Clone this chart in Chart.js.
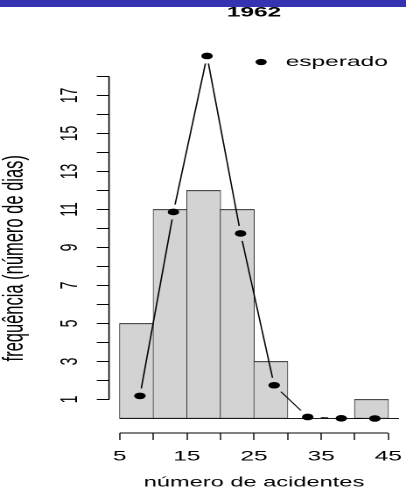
<!DOCTYPE html>
<html>
<head>
<meta charset="utf-8">
<script src="https://cdn.jsdelivr.net/npm/chart.js@4.4.1/dist/chart.umd.min.js"></script>
<style>
  html, body { margin: 0; padding: 0; background: #fff; }
  body { width: 406px; height: 494px; overflow: hidden; position: relative; }
  #topbar { position: absolute; left: 0; top: 0; width: 406px; height: 7px; background: #3434b2; z-index: 2; }
  /* the reference plot is stretched sideways, so draw narrow and widen it */
  #wrap { position: absolute; left: 0; top: 0; width: 232px; height: 494px; transform: scaleX(1.75); transform-origin: 0 0; }
</style>
</head>
<body>
<div id="topbar"></div>
<div id="wrap"><canvas id="histChart"></canvas></div>
<script>
// --- Data ---
const binEdges = [5, 10, 15, 20, 25, 30, 35, 40, 45];
const observed = [5, 11, 12, 11, 3, 0, 0, 1];
const expectedX = [8, 13, 18, 23, 28, 33, 38, 43];
const expected = [1.19, 10.87, 19.08, 9.74, 1.75, 0.08, 0.01, 0.0];
const xTicks = [5, 10, 15, 20, 25, 30, 35, 40, 45];
const xLabelled = [5, 15, 25, 35, 45];
const yTicks = [1, 2, 3, 4, 5, 6, 7, 8, 9, 10, 11, 12, 13, 14, 15, 16, 17, 18];
const yLabelled = [1, 3, 5, 7, 9, 11, 13, 15, 17];

// --- Layout helpers (pixels) ---
const PX_PER_UNIT = 19;
const ZERO_Y = 418.5;
const PLOT_BOTTOM = 433;
const yMin = -(PLOT_BOTTOM - ZERO_Y) / PX_PER_UNIT;

Chart.defaults.font.family = "'Liberation Sans', Arial, sans-serif";
Chart.defaults.color = '#000';

// R style axes: lines only span first..last tick, plus the histogram base line
const rAxes = {
    id: 'rAxes',
    afterLayout(chart) {
        // legend sits inside the plot, top right (like legend("topright", bty = "n"))
        const lg = chart.legend, ca = chart.chartArea;
        if (!lg) return;
        const w = lg.width, h = lg.height;
        lg.left = ca.right - w + 3.6;
        lg.right = lg.left + w;
        lg.top = ca.top - 5.2;
        lg.bottom = lg.top + h;
    },
    beforeDatasetsDraw(chart) {
        const { ctx, scales: { x, y }, chartArea } = chart;
        const y0 = y.getPixelForValue(0);
        ctx.save();
        ctx.strokeStyle = '#1a1a1a';
        ctx.lineWidth = 1;
        ctx.beginPath();
        ctx.moveTo(x.getPixelForValue(binEdges[0]), y0);
        ctx.lineTo(chartArea.right, y0);
        ctx.stroke();
        ctx.restore();
    },
    afterDraw(chart) {
        const { ctx, scales: { x, y }, chartArea } = chart;
        ctx.save();
        ctx.strokeStyle = '#000';
        ctx.lineWidth = 1;
        ctx.beginPath();
        ctx.moveTo(x.getPixelForValue(xTicks[0]), chartArea.bottom);
        ctx.lineTo(x.getPixelForValue(xTicks[xTicks.length - 1]), chartArea.bottom);
        ctx.stroke();
        ctx.lineWidth = 0.8;
        ctx.beginPath();
        ctx.moveTo(chartArea.left, y.getPixelForValue(yTicks[0]));
        ctx.lineTo(chartArea.left, y.getPixelForValue(yTicks[yTicks.length - 1]));
        ctx.stroke();
        ctx.restore();
    }
};

// type = "b": segments between points with a gap around each point
const typeBLines = {
    id: 'typeBLines',
    afterDatasetsDraw(chart) {
        const pts = chart.getDatasetMeta(1).data;
        const ctx = chart.ctx;
        const gap = 7.5;
        ctx.save();
        ctx.strokeStyle = '#000';
        ctx.lineWidth = 0.8;
        for (let i = 0; i < pts.length - 1; i++) {
            const a = pts[i], b = pts[i + 1];
            const dx = b.x - a.x, dy = b.y - a.y;
            const len = Math.hypot(dx, dy);
            if (len <= 2 * gap) continue;
            const ux = dx / len, uy = dy / len;
            ctx.beginPath();
            ctx.moveTo(a.x + ux * gap, a.y + uy * gap);
            ctx.lineTo(b.x - ux * gap, b.y - uy * gap);
            ctx.stroke();
        }
        ctx.restore();
    }
};

const ctx = document.getElementById('histChart').getContext('2d');
const chart = new Chart(ctx, {
    type: 'bar',
    data: {
        datasets: [{
            type: 'bar',
            label: 'observado',
            data: observed.map((v, i) => ({ x: (binEdges[i] + binEdges[i + 1]) / 2, y: v })),
            backgroundColor: '#d3d3d3',
            borderColor: '#1a1a1a',
            borderWidth: { top: 1, bottom: 1, left: 0.45, right: 0.45 },
            borderSkipped: false,
            barPercentage: 1,
            categoryPercentage: 1,
            order: 2
        }, {
            type: 'line',
            label: 'esperado',
            data: expectedX.map((x, i) => ({ x: x, y: expected[i] })),
            showLine: false,
            pointRadius: 3.3,
            pointBackgroundColor: '#000',
            pointBorderColor: '#000',
            pointBorderWidth: 0,
            backgroundColor: '#000',
            borderColor: '#000',
            borderWidth: 0,
            clip: false,
            order: 1
        }]
    },
    options: {
        responsive: true,
        maintainAspectRatio: false,
        animation: false,
        devicePixelRatio: 2,
        layout: { padding: { left: 0, right: 2.3, top: 0, bottom: 0 } },
        scales: {
            x: {
                type: 'linear',
                min: 3.4, max: 46.6,
                offset: false,
                afterBuildTicks: s => { s.ticks = xTicks.map(v => ({ value: v })); },
                afterFit: s => { s.height = 494 - PLOT_BOTTOM; s.paddingLeft = 0; s.paddingRight = 0; },
                grid: { offset: false, drawOnChartArea: false, tickLength: 7, color: '#000', lineWidth: 0.7 },
                border: { display: false },
                ticks: {
                    autoSkip: false, maxRotation: 0, padding: 8,
                    font: { size: 14 },
                    callback: v => xLabelled.includes(v) ? String(v) : ''
                },
                title: { display: true, text: 'número de acidentes', font: { size: 13.5 }, padding: { top: 0, bottom: 3 } }
            },
            y: {
                type: 'linear',
                min: yMin, max: 19.3,
                afterBuildTicks: s => { s.ticks = yTicks.map(v => ({ value: v })); },
                afterFit: s => { s.width = 62.3; s.paddingTop = 0; s.paddingBottom = 0; },
                grid: { drawOnChartArea: false, tickLength: 7, color: '#000', lineWidth: 1 },
                border: { display: false },
                ticks: {
                    autoSkip: false, minRotation: 90, maxRotation: 90,
                    crossAlign: 'center', padding: 7.5,
                    font: { size: 14 },
                    callback: v => yLabelled.includes(v) ? String(v) : ''
                },
                title: {
                    display: true,
                    text: 'frequência (número de dias)\u00a0\u00a0\u00a0\u00a0\u00a0\u00a0\u00a0',
                    font: { size: 16.5, lineHeight: 1 }, padding: 0
                }
            }
        },
        plugins: {
            title: {
                display: true, text: '1962', fullSize: false,
                font: { size: 14, weight: 'bold' },
                padding: { top: 4, bottom: 30.7 }
            },
            legend: {
                display: true, position: 'chartArea', align: 'start',
                labels: {
                    usePointStyle: true, boxWidth: 15, boxHeight: 4.5, padding: 8.7,
                    font: { size: 14 },
                    filter: item => item.datasetIndex === 1
                }
            },
            tooltip: { enabled: false }
        }
    },
    plugins: [rAxes, typeBLines]
});

// fix the value->pixel scale once the plot area is known
chart.options.scales.y.max = yMin + (PLOT_BOTTOM - chart.chartArea.top) / PX_PER_UNIT;
chart.update('none');
</script>
</body>
</html>
